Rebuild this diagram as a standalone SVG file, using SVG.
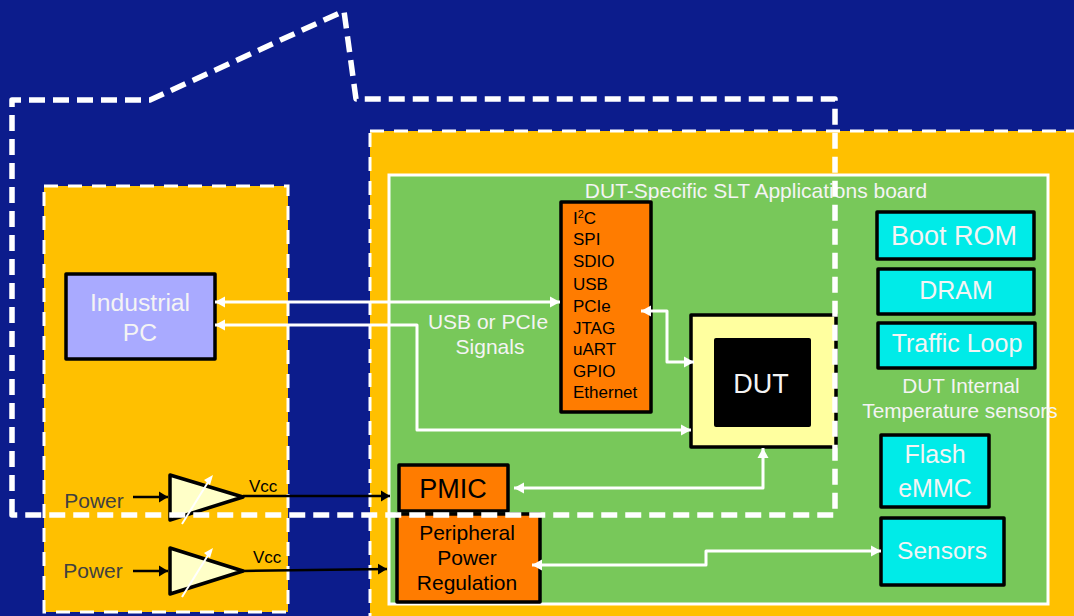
<svg xmlns="http://www.w3.org/2000/svg" width="1074" height="616" viewBox="0 0 1074 616">
<defs>
<marker id="w" markerUnits="userSpaceOnUse" markerWidth="12" markerHeight="14" refX="10" refY="7" orient="auto-start-reverse"><path d="M0 1.5L10 7L0 12.5Z" fill="#fff"/></marker>
<marker id="k" markerUnits="userSpaceOnUse" markerWidth="12" markerHeight="14" refX="9" refY="7" orient="auto"><path d="M0 1.5L9 7L0 12.5Z" fill="#000"/></marker>
</defs>
<style>
text{font-family:"Liberation Sans",Arial,sans-serif}
.b{stroke:#000;stroke-width:3.5;stroke-linejoin:round}
.o{fill:#ff7c00}.c{fill:#00ebe8}
.yb{fill:#ffc000;stroke:#fff;stroke-width:3;stroke-dasharray:14 10}
.wl{fill:none;stroke:#fff;stroke-width:3;stroke-linejoin:round}
.kl{fill:none;stroke:#000;stroke-width:2.5}
.wt{fill:#f4f4f4;text-anchor:middle}
.kt{fill:#000;text-anchor:middle}
.amp{fill:#ffffc8;stroke:#000;stroke-width:3.5;stroke-linejoin:round}
.st{stroke:#fff;stroke-width:2}
.m{font-size:17px;fill:#000}
.p{font-size:21px;fill:#404040;text-anchor:middle}
</style>
<rect width="1074" height="616" fill="#0c1c8c"/>
<g id="zone-left"><rect class="yb" x="44" y="186" width="244" height="426"/></g>
<g id="zone-right"><rect class="yb" x="370" y="131" width="720" height="500"/></g>
<g id="board"><rect x="389" y="175" width="659" height="429" fill="#78c85a" stroke="#fff" stroke-width="3"/>
<text class="wt" x="756" y="198" font-size="21">DUT-Specific SLT Applications board</text></g>
<g id="industrial-pc"><rect class="b" x="66" y="274" width="149" height="85" fill="#a9aaff"/>
<text class="wt" x="140" y="311" font-size="24.7">Industrial</text><text class="wt" x="140" y="341" font-size="24.7">PC</text></g>
<g id="interfaces"><rect class="b o" x="561" y="202" width="90" height="210"/>
<text class="m" x="573" y="224">I<tspan font-size="11" dy="-6">2</tspan><tspan dy="6">C</tspan></text>
<text class="m" x="573" y="245">SPI</text><text class="m" x="573" y="267">SDIO</text><text class="m" x="573" y="290">USB</text><text class="m" x="573" y="312">PCIe</text><text class="m" x="573" y="334">JTAG</text><text class="m" x="573" y="355">uART</text><text class="m" x="573" y="377">GPIO</text><text class="m" x="573" y="398">Ethernet</text></g>
<g id="dut"><rect class="b" x="691" y="315" width="145" height="132" fill="#ffff9f"/><rect x="714" y="338" width="97" height="89" rx="2" fill="#000"/>
<text class="wt" x="761" y="393" font-size="27">DUT</text></g>
<g id="boot-rom"><rect class="b c" x="877" y="212" width="157" height="47"/><text class="wt" x="954" y="245" font-size="27">Boot ROM</text></g>
<g id="dram"><rect class="b c" x="878" y="269" width="156" height="45"/><text class="wt" x="956" y="299" font-size="25">DRAM</text></g>
<g id="traffic-loop"><rect class="b c" x="878" y="323" width="157" height="45"/><text class="wt" x="957" y="352" font-size="25">Traffic Loop</text></g>
<g id="temp-label"><text class="wt" x="961" y="393" font-size="20.8">DUT Internal</text><text class="wt" x="960" y="418" font-size="20.8">Temperature sensors</text></g>
<g id="flash"><rect class="b c" x="881" y="435" width="108" height="72"/><text class="wt" x="935" y="463" font-size="25">Flash</text><text class="wt" x="935" y="497" font-size="25">eMMC</text></g>
<g id="sensors"><rect class="b c" x="881" y="518" width="123" height="67"/><text class="wt" x="942" y="559" font-size="24.5">Sensors</text></g>
<g id="pmic"><rect class="b o" x="399" y="465" width="109" height="46"/><text class="kt" x="453" y="498" font-size="27">PMIC</text></g>
<g id="peripheral"><rect class="b o" x="397" y="514" width="143" height="88"/><text class="kt" x="467" y="540" font-size="21">Peripheral</text><text class="kt" x="467" y="565" font-size="21">Power</text><text class="kt" x="467" y="590" font-size="21">Regulation</text></g>
<g id="amp-1"><path class="amp" d="M170 475L243 497L170 520Z"/><path class="st" d="M182 524L210 479"/><path d="M213 475L204 480L210 485Z" fill="#fff"/></g>
<g id="amp-2"><path class="amp" d="M170 548L243 571L170 594Z"/><path class="st" d="M182 597L210 552"/><path d="M213 548L204 553L210 558Z" fill="#fff"/></g>
<g id="power-labels"><text class="p" x="94" y="508">Power</text><text class="p" x="93" y="578">Power</text><text x="249" y="492" font-size="17" fill="#000">Vcc</text><text x="253" y="563" font-size="17" fill="#000">Vcc</text></g>
<g id="connectors">
<path class="kl" d="M133 497H168" marker-end="url(#k)"/>
<path class="kl" d="M133 571H168" marker-end="url(#k)"/>
<path class="kl" d="M243 496H390" marker-end="url(#k)"/>
<path class="kl" d="M243 571L387 569" marker-end="url(#k)"/>
<path class="wl" d="M215 302H560" marker-start="url(#w)" marker-end="url(#w)"/>
<path class="wl" d="M215 325H417V430H691" marker-start="url(#w)" marker-end="url(#w)"/>
<path class="wl" d="M641 311H667V362H694" marker-start="url(#w)" marker-end="url(#w)"/>
<path class="wl" d="M514 488H763V448" marker-start="url(#w)" marker-end="url(#w)"/>
<path class="wl" d="M532 565H706V551H881" marker-start="url(#w)" marker-end="url(#w)"/>
</g>
<g id="signal-label"><text class="wt" x="488" y="329" font-size="21">USB or PCIe</text><text class="wt" x="490" y="354" font-size="21">Signals</text></g>
<g id="fence"><path d="M12 515V100H150L344 11L356 99H835V515Z" fill="none" stroke="#fff" stroke-width="5.5" stroke-linejoin="round" stroke-dasharray="16 8"/></g>
</svg>
